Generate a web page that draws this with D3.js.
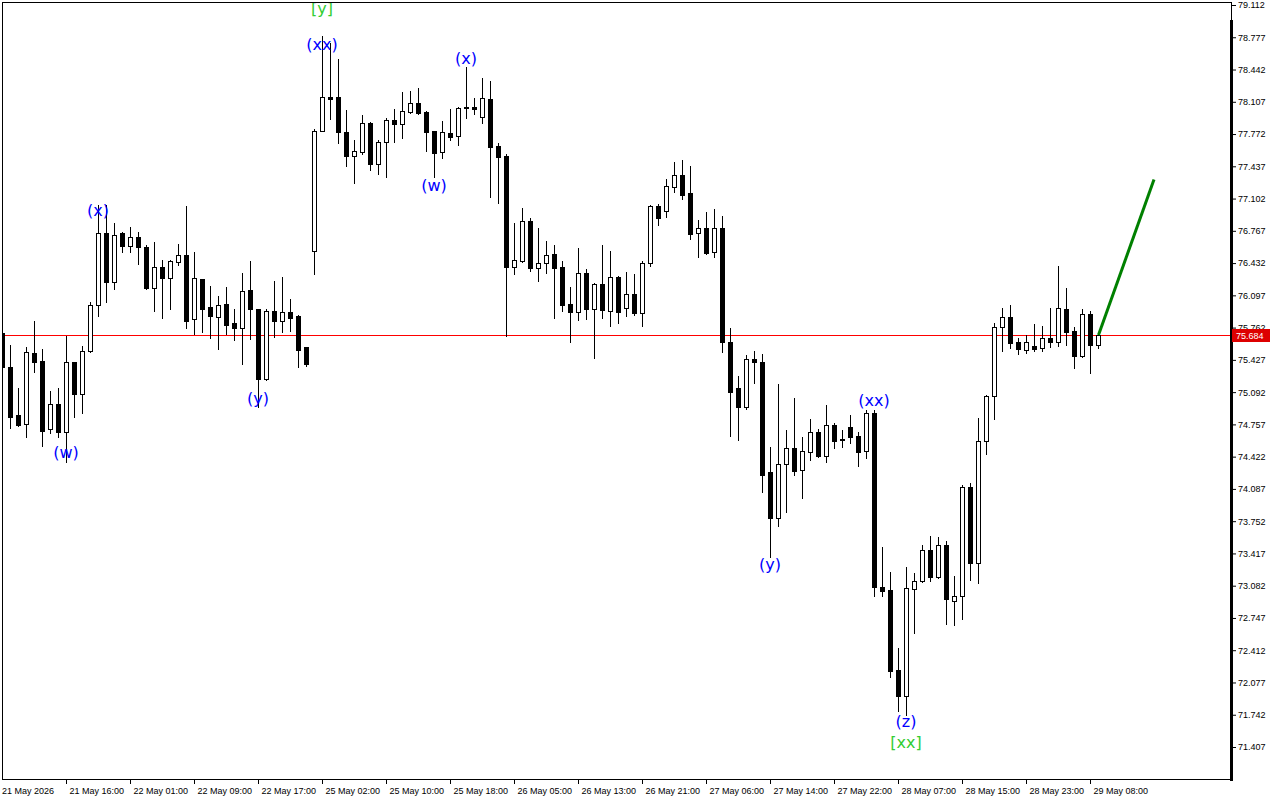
<!DOCTYPE html>
<html><head><meta charset="utf-8">
<script src="https://cdn.jsdelivr.net/npm/d3@7"></script>
<style>body{margin:0;background:#fff}svg{display:block}</style>
</head><body>
<svg id="c" width="1280" height="800"></svg>
<script>
const openP=[75.71,75.35,74.85,74.76,75.50,75.42,74.71,74.97,74.68,75.40,
75.07,75.52,76.00,76.74,76.24,76.74,76.61,76.70,76.60,76.17,
76.39,76.28,76.44,76.52,75.85,76.27,75.98,75.87,76.01,75.81,
75.76,76.15,75.96,75.23,75.93,75.83,75.92,75.88,75.56,76.56,
77.80,78.16,78.16,77.79,77.54,77.59,77.89,77.46,77.69,77.92,
77.88,78.00,78.09,78.00,77.80,77.59,77.78,77.75,78.05,78.05,
77.95,78.14,77.65,77.54,76.39,76.45,76.87,76.38,76.43,76.53,
76.39,76.01,75.92,76.33,75.96,76.22,75.93,76.29,75.97,76.11,
75.91,76.43,77.02,76.97,77.22,77.35,77.16,76.74,76.80,76.55,
76.80,75.61,75.13,74.94,75.44,75.41,74.26,73.79,74.35,74.51,
74.28,74.47,74.68,74.43,74.75,74.61,74.73,74.64,74.48,74.88,
73.07,73.04,72.21,71.94,73.05,73.13,73.45,73.17,73.50,72.92,
72.97,74.11,73.32,74.58,75.05,75.77,75.87,75.61,75.53,75.57,
75.55,75.65,75.61,75.96,75.73,75.47,75.90,75.58];
const highP=[75.74,75.58,75.13,75.56,75.83,75.54,75.10,75.14,75.67,75.41,
75.57,76.03,77.04,77.04,76.85,76.75,76.81,76.75,76.62,76.65,
76.46,76.46,76.63,77.02,76.55,76.27,76.19,76.09,76.18,75.96,
76.33,76.45,75.96,75.96,76.25,76.29,76.06,75.89,75.56,77.82,
78.79,78.72,78.55,78.02,77.71,77.97,77.90,77.71,77.94,78.03,
78.21,78.22,78.25,78.01,77.80,77.91,78.03,78.05,78.47,78.15,
78.35,78.32,77.68,77.56,76.85,77.00,76.90,76.80,76.66,76.62,
76.45,76.18,76.59,76.37,76.23,76.62,76.56,76.30,76.34,76.32,
76.45,77.03,77.05,77.30,77.48,77.50,77.44,76.88,76.96,76.99,
76.92,75.76,75.26,75.48,75.52,75.49,74.52,75.18,74.70,75.03,
74.63,74.81,74.71,74.96,74.77,74.70,74.85,74.68,74.91,74.91,
73.48,73.22,72.44,73.28,73.21,73.50,73.60,73.59,73.55,73.18,
74.13,74.15,74.82,75.06,75.81,75.97,76.00,75.65,75.69,75.80,
75.78,75.97,76.40,76.17,75.77,75.96,75.93,75.72];
const lowP=[75.32,74.72,74.74,74.63,75.30,74.53,74.67,74.63,74.37,74.83,
74.88,75.51,75.88,76.03,76.16,76.55,76.55,76.42,76.16,75.93,
75.86,75.96,76.41,75.76,75.70,75.72,75.65,75.54,75.70,75.63,
75.38,75.64,74.94,75.22,75.66,75.72,75.73,75.35,75.36,76.32,
77.80,77.93,77.68,77.44,77.26,77.56,77.40,77.36,77.33,77.69,
77.73,77.99,77.98,77.60,77.33,77.52,77.71,77.66,77.94,77.98,
77.89,77.12,77.06,75.67,76.32,76.44,76.35,76.25,76.33,75.86,
75.93,75.61,75.84,75.85,75.45,75.86,75.78,75.81,75.88,75.89,
75.78,76.40,76.83,76.91,77.17,77.10,76.68,76.50,76.53,76.50,
75.51,74.64,74.59,74.92,75.19,74.06,73.38,73.70,73.85,74.23,
73.99,74.39,74.42,74.37,74.51,74.52,74.56,74.33,74.41,72.97,
72.97,72.13,71.78,71.74,72.59,73.12,73.13,73.16,72.68,72.67,
72.74,73.14,73.11,74.45,74.81,75.52,75.55,75.49,75.50,75.52,
75.52,75.56,75.57,75.58,75.34,75.46,75.29,75.55];
const closeP=[75.35,74.83,74.75,75.51,75.41,74.69,74.97,74.68,75.40,75.07,
75.52,76.00,76.74,76.24,76.72,76.61,76.70,76.60,76.17,76.39,
76.28,76.45,76.52,75.83,76.28,75.96,75.88,76.00,75.79,75.76,
76.14,75.96,75.23,75.93,75.83,75.92,75.86,75.53,75.38,77.80,
78.16,78.14,77.79,77.54,77.60,77.89,77.46,77.69,77.92,77.88,
78.01,78.09,77.99,77.79,77.58,77.79,77.74,78.04,78.04,78.03,
78.15,77.64,77.53,76.39,76.46,76.87,76.38,76.43,76.52,76.38,
76.00,75.92,76.33,75.96,76.22,75.95,76.29,75.92,76.11,75.91,
76.43,77.02,76.90,77.23,77.35,77.14,76.73,76.80,76.54,76.80,
75.61,75.09,74.94,75.44,75.40,74.23,73.79,74.35,74.51,74.27,
74.48,74.68,74.43,74.75,74.58,74.60,74.63,74.47,74.88,73.07,
73.03,72.20,71.94,73.06,73.13,73.45,73.17,73.50,72.94,72.98,
74.11,73.32,74.58,75.05,75.77,75.87,75.60,75.54,75.61,75.54,
75.65,75.61,75.97,75.72,75.47,75.90,75.58,75.684];

const timeLabels=["21 May 2026","21 May 16:00","22 May 01:00","22 May 09:00","22 May 17:00","25 May 02:00","25 May 10:00","25 May 18:00","26 May 05:00","26 May 13:00","26 May 21:00","27 May 06:00","27 May 14:00","27 May 22:00","28 May 07:00","28 May 15:00","28 May 23:00","29 May 08:00"];
const timeLabelStep=8;
const priceTicks=[79.112,78.777,78.442,78.107,77.772,77.437,77.102,76.767,76.432,76.097,75.762,75.427,75.092,74.757,74.422,74.087,73.752,73.417,73.082,72.747,72.412,72.077,71.742,71.407];
const bidPrice=75.684;

const waveText =["(w)","(x)","(y)","[y]","(xx)","(w)","(x)","(y)","(xx)","(z)","[xx]"];
const waveIndex=[8,12,32,40,40,54,58,96,109,113,113];
const wavePrice=[74.47,76.98,75.03,79.08,78.70,77.24,78.56,73.30,75.01,71.67,71.45];
const waveKind =["minor","minor","minor","major","minor","minor","minor","minor","minor","minor","major"];

const forecastIndex=[137,144];
const forecastPrice=[75.684,77.30];

const svg=d3.select('#c');
const L=2,T=2,R=1231,B=779;
const x=d3.scaleLinear().domain([0,137]).range([2,1098]);
const y=d3.scaleLinear().domain([71.407,79.112]).range([747,5]);

svg.append('rect').attr('width',1280).attr('height',800).attr('fill','#fff');
svg.append('defs').append('clipPath').attr('id','clip').append('rect')
  .attr('x',L+1).attr('y',T+1).attr('width',R-L-2).attr('height',B-T-1);
const plot=svg.append('g').attr('clip-path','url(#clip)');

const data=openP.map((o,i)=>({i,o,h:highP[i],l:lowP[i],c:closeP[i]}));

// bid line
const by=Math.round(y(bidPrice));
plot.append('rect').attr('x',L).attr('y',by).attr('width',R-L).attr('height',1)
  .attr('fill','#ff0000').attr('shape-rendering','crispEdges');

plot.selectAll('line.wick').data(data).join('line').attr('class','wick')
  .attr('x1',d=>x(d.i)+0.5).attr('x2',d=>x(d.i)+0.5)
  .attr('y1',d=>Math.round(y(d.h))).attr('y2',d=>Math.round(y(d.l))+1)
  .attr('stroke','#000').attr('stroke-width',1);

plot.selectAll('rect.body').data(data).join('rect').attr('class','body')
  .attr('x',d=>x(d.i)-1.5).attr('width',4)
  .attr('y',d=>Math.round(y(Math.max(d.o,d.c)))+0.5)
  .attr('height',d=>Math.max(1,Math.round(y(Math.min(d.o,d.c)))-Math.round(y(Math.max(d.o,d.c)))))
  .attr('fill',d=>d.c>=d.o?'#fff':'#000').attr('stroke','#000').attr('stroke-width',1);

// forecast line
plot.append('line')
  .attr('x1',x(forecastIndex[0])+0.5).attr('y1',y(forecastPrice[0]))
  .attr('x2',x(forecastIndex[1])).attr('y2',y(forecastPrice[1]))
  .attr('stroke','#008000').attr('stroke-width',3);

// wave labels
svg.append('g').selectAll('text').data(waveText).join('text')
  .attr('x',(d,k)=>x(waveIndex[k])).attr('y',(d,k)=>y(wavePrice[k]))
  .attr('text-anchor','middle').attr('dominant-baseline','central')
  .attr('font-family','DejaVu Sans, sans-serif').attr('font-size',16)
  .attr('fill',(d,k)=>waveKind[k]==='major'?'#32cd32':'#0000ff')
  .text(d=>d);

// frame
const fr=svg.append('g').attr('stroke','#000').attr('shape-rendering','crispEdges');
fr.append('line').attr('x1',L).attr('x2',R+1).attr('y1',T+0.5).attr('y2',T+0.5);
fr.append('line').attr('x1',L+0.5).attr('x2',L+0.5).attr('y1',T).attr('y2',B+1);
fr.append('line').attr('x1',L).attr('x2',R+2).attr('y1',B+0.5).attr('y2',B+0.5);
fr.append('line').attr('x1',R+0.5).attr('x2',R+0.5).attr('y1',T).attr('y2',20);
fr.append('rect').attr('x',R-1).attr('y',20).attr('width',3).attr('height',B-18).attr('fill','#000').attr('stroke','none');

// right price axis
const ax=svg.append('g').attr('transform',`translate(${R+1},0)`)
  .call(d3.axisRight(y).tickValues(priceTicks).tickSize(4).tickPadding(2).tickFormat(d3.format('.3f')));
ax.select('.domain').remove();
ax.selectAll('line').attr('stroke','#000');
ax.selectAll('text').attr('fill','#000').attr('font-family','Liberation Sans, Arial, sans-serif').attr('font-size',9);

// bid label
svg.append('rect').attr('x',R+1).attr('y',by-6).attr('width',38).attr('height',13).attr('fill','#dd0000');
svg.append('text').attr('x',R+5).attr('y',by+0.5).attr('dominant-baseline','central')
  .attr('font-family','Liberation Sans, Arial, sans-serif').attr('font-size',9).attr('fill','#fff').text(d3.format('.3f')(bidPrice));

// bottom time axis
const tickIdx=timeLabels.map((t,k)=>k*timeLabelStep);
const bx=svg.append('g').attr('transform',`translate(0,${B})`)
  .call(d3.axisBottom(x).tickValues(tickIdx).tickSize(5).tickFormat((d,k)=>timeLabels[k]));
bx.select('.domain').remove();
bx.selectAll('line').attr('stroke','#000');
bx.selectAll('text').attr('fill','#000').attr('text-anchor','start')
  .attr('x',(d,k)=>k===0?1-x(d)+0.5:3).attr('y',9)
  .attr('font-family','Liberation Sans, Arial, sans-serif').attr('font-size',9);
bx.selectAll('.tick').filter((d,k)=>k===0).select('line').remove();
</script>
</body></html>
